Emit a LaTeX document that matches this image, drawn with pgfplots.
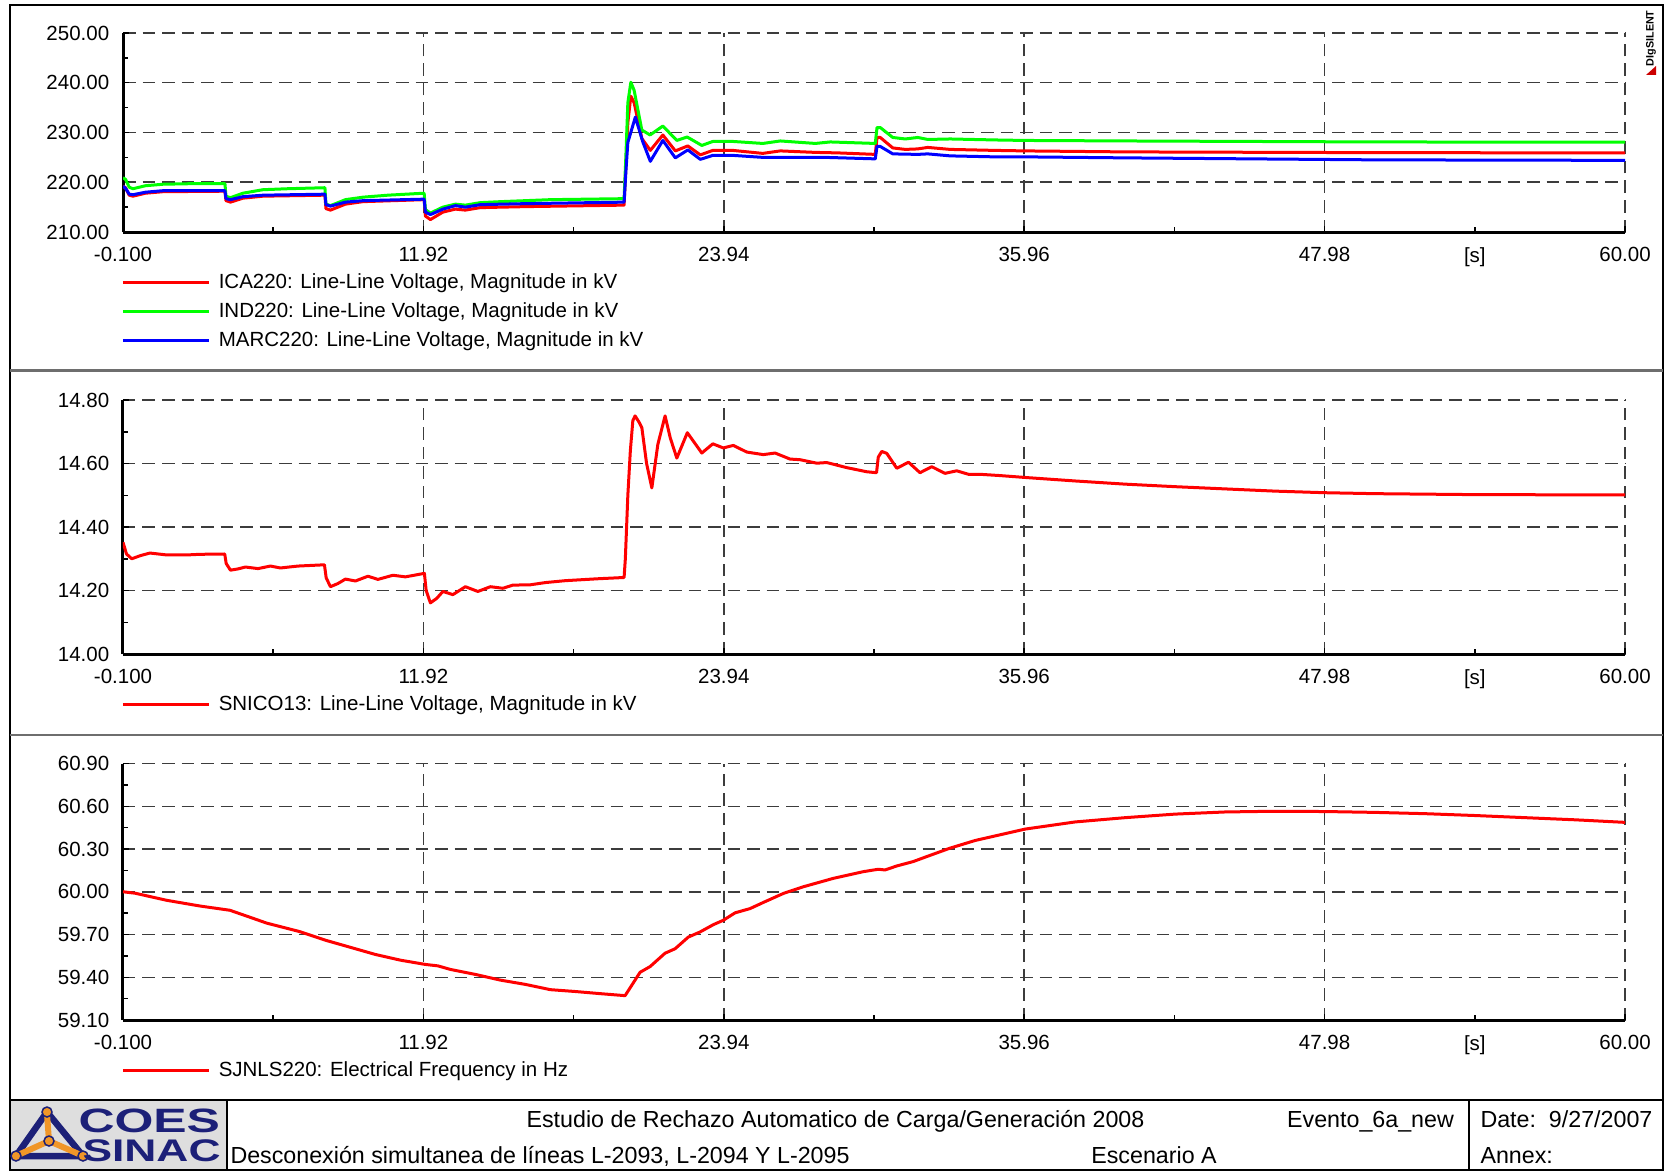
\documentclass[border=0pt]{standalone}
\usepackage{fontspec}
\setmainfont{Liberation Sans}
\usepackage{pgfplots}
\pgfplotsset{compat=1.18}

\definecolor{gridgray}{RGB}{60,60,60}
\definecolor{sepgray}{RGB}{110,110,110}
\definecolor{navy}{RGB}{28,32,120}
\definecolor{logobg}{RGB}{222,222,222}
\definecolor{logoorange}{RGB}{240,150,40}

\newcommand{\plotfont}{\fontsize{8.2}{9.5}\selectfont}

\pgfplotsset{
  panel/.style={
    scale only axis, width=600.8pt, anchor=south west,
    xmin=-0.1, xmax=60,
    axis x line=bottom, axis y line=left,
    every outer x axis line/.append style={-},
    every outer y axis line/.append style={-},
    axis line style={black, line width=1.2pt},
    tick align=inside,
    tick style={black, line width=0.6pt},
    major tick length=2.4pt, minor tick length=2pt,
    xtick={-0.1,11.92,23.94,35.96,47.98,60},
    xticklabels={-0.100,11.92,23.94,35.96,47.98,60.00},
    minor xtick={5.91,17.93,29.95,41.97,53.99},
    extra x ticks={53.99},
    extra x tick labels={{[s]}},
    extra x tick style={grid=none, major tick length=0pt},
    xmajorgrids, ymajorgrids,
    major grid style={gridgray, line width=0.6pt, dash pattern=on 5pt off 2.8pt},
    tick label style={font=\plotfont},
    xticklabel style={yshift=-2.65pt},
    yticklabel style={xshift=-2pt, /pgf/number format/.cd, fixed, fixed zerofill, precision=2, assume math mode=true},
    legend image code/.code={\draw[#1, line width=1.2pt] (0pt,1.7pt) -- (34.4pt,1.7pt);},
    legend cell align=left,
    legend style={at={(0,0)}, anchor=north west, draw=none, fill=none,
      inner sep=0pt, font=\plotfont, row sep=0pt,
      nodes={inner sep=0pt, text height=6.4pt, text depth=5.2pt},
      /tikz/every odd column/.append style={column sep=3.3pt},
      xshift=-0.8pt, yshift=-15.9pt},
    every axis plot/.append style={line width=1.2pt, line join=round},
  }
}

\begin{document}
\begin{tikzpicture}
\begin{scope}[x=0.4pt, y=-0.4pt]
\useasboundingbox (0,0) rectangle (1671,1172);
\coordinate (P1) at (123,232);
\coordinate (P2) at (123,654);
\coordinate (P3) at (123,1020);

% frame and panel separators
\draw[black, line width=0.8pt] (9.5,5.5) rectangle (1663,1170);
\draw[sepgray, line width=0.9pt] (9.5,370.5) -- (1663,370.5);
\draw[sepgray, line width=0.9pt] (9.5,735) -- (1663,735);
\draw[black, line width=1pt] (9.5,1100) -- (1663,1100);
\draw[black, line width=1pt] (227,1100) -- (227,1170);
\draw[black, line width=1pt] (1469,1100) -- (1469,1170);

% DIgSILENT mark
\node[rotate=90, anchor=east, inner sep=0pt, font=\bfseries\fontsize{4.3}{5}\selectfont] at (1651,10) {DIgSILENT};
\fill[red!80!black] (1646,75) -- (1656,75) -- (1656,66) -- cycle;

% ---------- footer ----------
\fill[logobg] (11,1101) rectangle (226,1169);
\draw[navy, line width=2.6pt, line join=round] (47,1112) -- (83,1156) -- (16,1156) -- cycle;
\draw[logoorange, line width=2.4pt] (49,1141) -- (47,1114) (49,1141) -- (81,1155) (49,1141) -- (18,1155);
\fill[logoorange, draw=navy, line width=0.6pt] (49,1141) circle (5);
\fill[logoorange, draw=navy, line width=0.6pt] (47,1112) circle (5);
\fill[logoorange, draw=navy, line width=0.6pt] (83,1156) circle (5);
\fill[logoorange, draw=navy, line width=0.6pt] (16,1156) circle (5);
\node[anchor=west, inner sep=0pt, text=navy, font=\bfseries\fontsize{13.5}{14}\selectfont] at (78,1121) {\scalebox{1.48}[1]{COES}};
\node[anchor=west, inner sep=0pt, text=navy, font=\bfseries\fontsize{12.5}{13}\selectfont] at (82,1151) {\scalebox{1.42}[1]{SINAC}};

\begin{scope}[every node/.style={inner sep=0pt, anchor=mid, font=\fontsize{9.3}{11}\selectfont}]
\node at (835.5,1121) {Estudio de Rechazo Automatico de Carga/Generación 2008};
\node at (1370.5,1121) {Evento\_6a\_new};
\node[anchor=mid west] at (230,1157) {Desconexión simultanea de líneas L-2093, L-2094 Y L-2095};
\node at (1154,1157) {Escenario A};
\node[anchor=mid west] at (1480,1121) {Date:\ \ 9/27/2007};
\node[anchor=mid west] at (1480,1157) {Annex:};
\end{scope}
\end{scope}

% ---------- panel 1: 220 kV voltages ----------
\begin{axis}[panel, at={(P1)}, height=79.6pt,
  ymin=210, ymax=250, ytick={210,220,230,240,250}, minor ytick={215,225,235,245}]
\addplot[red] coordinates {
(-0.1,219.2) (0.0,218.9) (0.15,217.4) (0.3,217.2) (0.8,217.8) (1.5,218.1) (3.98,218.2)
(4.02,216.3) (4.2,216.0) (4.7,216.8) (5.5,217.2) (7.98,217.4)
(8.02,214.7) (8.2,214.4) (8.8,215.6) (9.5,216.1) (11.95,216.5)
(12.0,213.2) (12.2,212.5) (12.7,214.0) (13.2,214.6) (13.6,214.4) (14.2,214.9) (16,215.1) (19.95,215.4)
(20.02,223.0) (20.1,232.0) (20.22,237.3) (20.35,236.0) (20.66,228.8) (21.0,226.4) (21.5,229.5)
(22.0,226.3) (22.5,227.3) (23.0,225.5) (23.5,226.4) (24.3,226.4) (25.5,225.8) (26.2,226.3)
(27.6,226.0) (28.5,225.9) (30.0,225.6) (30.07,229.0) (30.2,229.0) (30.7,226.9) (31.2,226.6)
(31.7,226.7) (32.1,227.0) (33,226.6) (34.8,226.4) (36,226.3) (40,226.1) (50,225.95) (60,225.9)
};
\addlegendentry{ICA220: Line-Line Voltage, Magnitude in kV}
\addplot[green] coordinates {
(-0.1,220.9) (0.0,220.6) (0.15,219.0) (0.3,218.7) (0.8,219.3) (1.5,219.6) (2.5,219.7) (3.98,219.7)
(4.02,217.2) (4.2,216.9) (4.7,217.8) (5.5,218.5) (6.5,218.7) (7.98,218.9)
(8.02,215.6) (8.2,215.3) (8.8,216.5) (9.5,217.0) (10.5,217.4) (11.95,217.8)
(12.0,214.5) (12.2,213.8) (12.7,215.0) (13.2,215.6) (13.6,215.4) (14.2,215.9) (15,216.1) (16,216.3) (17,216.5) (19.95,216.7)
(20.02,225.0) (20.1,236.0) (20.22,240.1) (20.35,238.5) (20.66,230.5) (20.99,229.5) (21.5,231.3)
(22.06,228.4) (22.47,229.1) (23.06,227.4) (23.5,228.2) (24.3,228.2) (25.5,227.8) (26.2,228.3)
(27.6,227.8) (28.2,228.1) (30.0,227.8) (30.07,231.0) (30.2,231.0) (30.7,229.0) (31.2,228.7)
(31.7,229.0) (32.1,228.6) (33,228.7) (34.8,228.5) (36,228.4) (40,228.3) (50,228.1) (60,228.05)
};
\addlegendentry{IND220: Line-Line Voltage, Magnitude in kV}
\addplot[blue] coordinates {
(-0.1,219.2) (0.0,218.8) (0.15,217.6) (0.3,217.5) (0.8,218.0) (1.5,218.3) (3.98,218.3)
(4.02,216.7) (4.2,216.5) (4.7,217.1) (5.5,217.4) (7.98,217.6)
(8.02,215.5) (8.2,215.2) (8.8,216.0) (9.5,216.3) (11.95,216.6)
(12.0,214.0) (12.2,213.5) (12.7,214.6) (13.2,215.3) (13.6,215.0) (14.2,215.5) (16,215.7) (19.95,216.0)
(20.02,222.0) (20.1,228.0) (20.4,233.1) (20.7,228.1) (21.0,224.2) (21.5,228.4) (22.0,224.9)
(22.5,226.5) (23.0,224.6) (23.5,225.4) (24.3,225.4) (25.5,225.0) (28,225.0) (30.0,224.7)
(30.07,227.2) (30.2,227.2) (30.7,225.7) (31.7,225.6) (32.1,225.7) (33,225.3) (34.8,225.1)
(36,225.1) (40,224.9) (45,224.7) (50,224.5) (60,224.4)
};
\addlegendentry{MARC220: Line-Line Voltage, Magnitude in kV}
\end{axis}

% ---------- panel 2: SNICO13 ----------
\begin{axis}[panel, at={(P2)}, height=101.6pt,
  ymin=14.0, ymax=14.8, ytick={14.0,14.2,14.4,14.6,14.8}, minor ytick={14.1,14.3,14.5,14.7}]
\addplot[red] coordinates {
(-0.1,14.352) (0.04,14.315) (0.25,14.300) (0.6,14.310) (0.98,14.318) (1.65,14.312) (2.45,14.312)
(2.98,14.314) (3.97,14.315) (4.03,14.285) (4.2,14.264) (4.5,14.268) (4.8,14.274) (5.3,14.269)
(5.8,14.277) (6.2,14.271) (6.9,14.277) (7.96,14.281) (8.03,14.240) (8.2,14.212) (8.5,14.222)
(8.8,14.236) (9.2,14.230) (9.7,14.245) (10.1,14.235) (10.7,14.248) (11.2,14.243) (11.96,14.254)
(12.03,14.200) (12.2,14.161) (12.45,14.175) (12.7,14.197) (13.1,14.187) (13.6,14.212) (14.1,14.197)
(14.6,14.212) (15.1,14.207) (15.5,14.217) (16.2,14.218) (16.8,14.225) (17.6,14.231) (18.9,14.237)
(19.95,14.241) (20.0,14.30) (20.1,14.50) (20.2,14.64) (20.3,14.735) (20.39,14.750) (20.55,14.730)
(20.66,14.713) (20.85,14.60) (21.06,14.523) (21.3,14.66) (21.59,14.750) (21.8,14.68) (22.06,14.617)
(22.48,14.697) (23.06,14.633) (23.5,14.662) (23.92,14.649) (24.32,14.657) (24.86,14.636)
(25.52,14.628) (25.99,14.633) (26.59,14.614) (26.99,14.612) (27.66,14.601) (28.06,14.603)
(28.86,14.587) (29.66,14.574) (30.05,14.571) (30.12,14.620) (30.26,14.638) (30.46,14.632)
(30.86,14.585) (31.33,14.604) (31.79,14.571) (32.26,14.590) (32.79,14.569) (33.26,14.577)
(33.73,14.566) (34.19,14.566) (34.99,14.562) (36,14.556) (38,14.545) (40,14.535) (42,14.527)
(44,14.520) (46,14.513) (48,14.508) (50,14.505) (54,14.502) (60,14.501)
};
\addlegendentry{SNICO13: Line-Line Voltage, Magnitude in kV}
\end{axis}

% ---------- panel 3: frequency ----------
\begin{axis}[panel, at={(P3)}, height=102.6pt,
  ymin=59.1, ymax=60.9, ytick={59.1,59.4,59.7,60.0,60.3,60.6,60.9}, minor ytick={59.25,59.55,59.85,60.15,60.45,60.75}]
\addplot[red] coordinates {
(-0.1,60.00) (0.38,59.99) (1.65,59.94) (2.98,59.90) (4.18,59.87) (5.0,59.82) (5.65,59.78)
(6.98,59.72) (8.0,59.66) (9.0,59.61) (10.0,59.56) (11.0,59.52) (12.0,59.49) (12.5,59.48)
(13.0,59.455) (14.0,59.42) (15.0,59.38) (16.0,59.35) (17.0,59.313) (18.0,59.30) (19.0,59.285)
(19.99,59.271) (20.59,59.435) (20.99,59.475) (21.59,59.569) (21.99,59.600) (22.52,59.682)
(22.99,59.718) (23.52,59.769) (23.92,59.800) (24.39,59.852) (24.99,59.882) (25.52,59.925)
(26.32,59.988) (27.12,60.035) (28.32,60.094) (29.52,60.141) (30.12,60.158) (30.39,60.153)
(30.86,60.181) (31.52,60.212) (32.06,60.247) (32.99,60.306) (34,60.36) (35,60.40) (36,60.44)
(38,60.49) (40,60.52) (42,60.545) (44,60.56) (46,60.565) (48,60.563) (50,60.557) (52,60.548)
(54,60.535) (56,60.52) (58,60.505) (60,60.487)
};
\addlegendentry{SJNLS220: Electrical Frequency in Hz}
\end{axis}
\end{tikzpicture}
\end{document}
